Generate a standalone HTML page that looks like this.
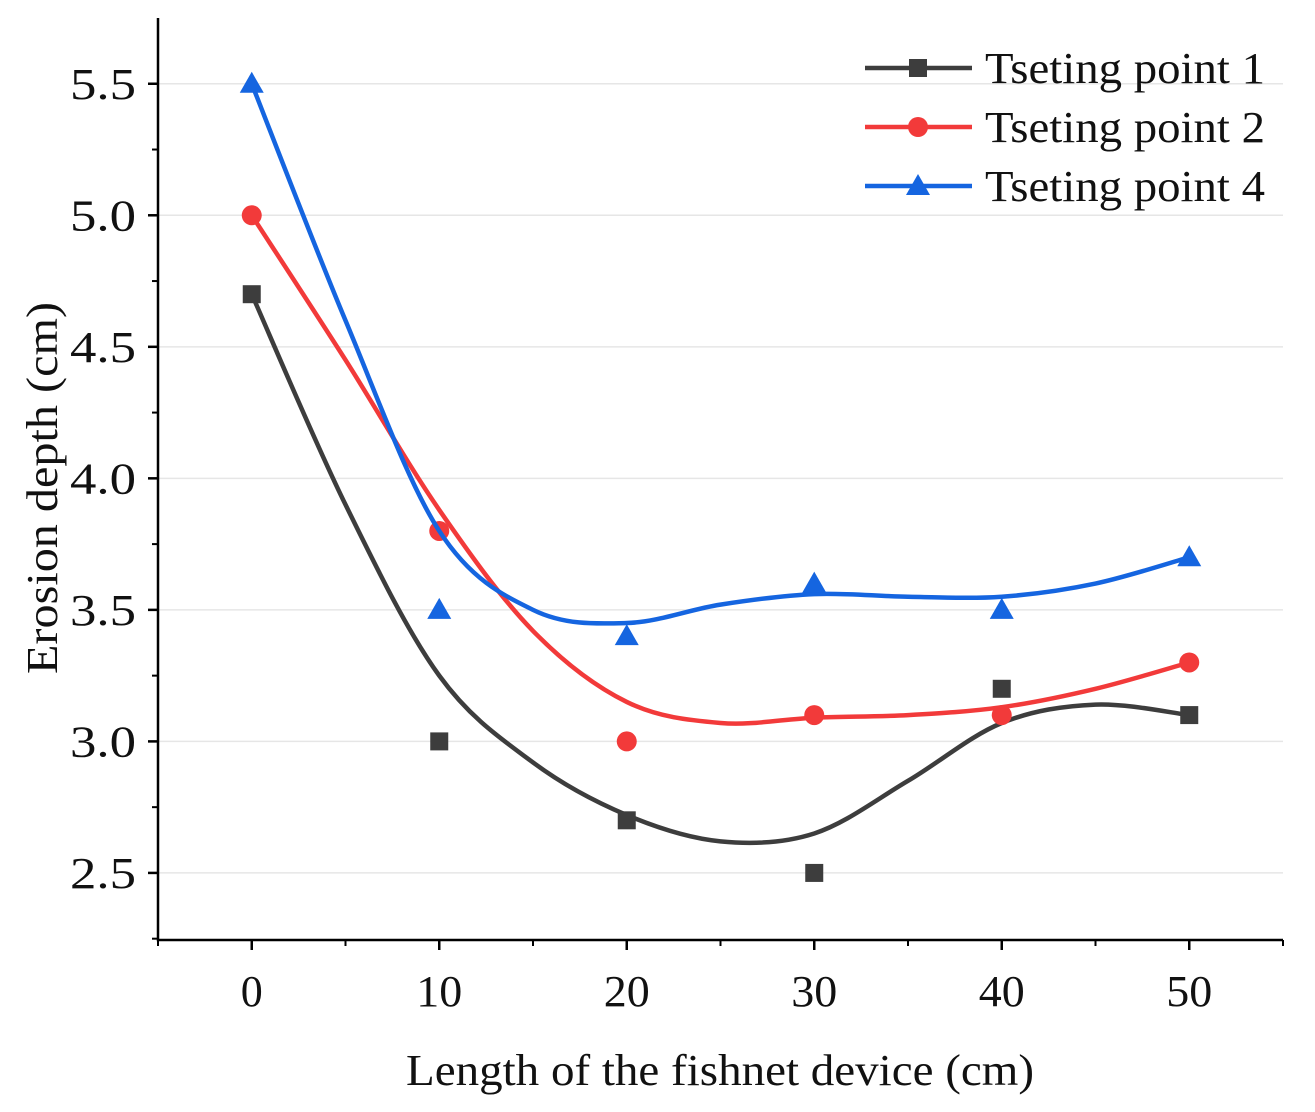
<!DOCTYPE html>
<html><head><meta charset="utf-8"><style>
html,body{margin:0;padding:0;background:#fff;}
svg{display:block;font-family:"Liberation Serif",serif;}
</style></head><body>
<svg id="chart" width="1315" height="1112" viewBox="0 0 1315 1112">
<g id="grid"></g>
<g id="axes"></g>
<g id="series"></g>
<g id="legend"></g>
<text x="720" y="1085" font-size="44" text-anchor="middle" fill="#111" textLength="628" lengthAdjust="spacingAndGlyphs">Length of the fishnet device (cm)</text>
<text transform="translate(57,488) rotate(-90)" font-size="44" text-anchor="middle" fill="#111" textLength="372" lengthAdjust="spacingAndGlyphs">Erosion depth (cm)</text>
</svg>
<script>
const xCats=[0,10,20,30,40,50];
const s1=[4.7,3.0,2.7,2.5,3.2,3.1];
const s2=[5.0,3.8,3.0,3.1,3.1,3.3];
const s4=[5.5,3.5,3.4,3.6,3.5,3.7];
const fitX=[0,5,10,15,20,25,30,35,40,45,50];
const fit1=[4.7,3.9,3.25,2.92,2.72,2.62,2.65,2.85,3.07,3.14,3.1];
const fit2=[5.0,4.45,3.88,3.42,3.15,3.07,3.09,3.10,3.13,3.2,3.3];
const fit4=[5.5,4.6,3.8,3.5,3.45,3.52,3.56,3.55,3.55,3.6,3.7];
const yTicks=[2.5,3.0,3.5,4.0,4.5,5.0,5.5];
const yTickLabels=["2.5","3.0","3.5","4.0","4.5","5.0","5.5"];
const xTickLabels=["0","10","20","30","40","50"];
const names=["Tseting point 1","Tseting point 2","Tseting point 4"];

const NS="http://www.w3.org/2000/svg";
const L=158,R=1283,T=18,B=940,xmin=-5,xmax=55,ymin=2.245,ymax=5.75;
const X=v=>L+(v-xmin)/(xmax-xmin)*(R-L);
const Y=v=>B-(v-ymin)/(ymax-ymin)*(B-T);
function mk(p,tag,a){const e=document.createElementNS(NS,tag);for(const k in a)e.setAttribute(k,a[k]);p.appendChild(e);return e;}
const grid=document.getElementById('grid'),axes=document.getElementById('axes'),ser=document.getElementById('series'),leg=document.getElementById('legend');
yTicks.forEach((v,i)=>{
  const g=mk(grid,'line',{x1:L,x2:R,y1:Y(v),y2:Y(v),stroke:'#e6e6e6','stroke-width':1.5});
  
  const t=mk(axes,'line',{x1:L-10,x2:L,y1:Y(v),y2:Y(v),stroke:'#000','stroke-width':2.5});
  
  const lb=mk(axes,'text',{x:L-22,y:Y(v)+15,'font-size':44,'text-anchor':'end',fill:'#111',textLength:66,lengthAdjust:'spacingAndGlyphs'});lb.textContent=yTickLabels[i];
  
});
for(let v=2.25;v<5.75;v+=0.25){if(Math.abs((v*2)%1)<1e-6)continue;const t=mk(axes,'line',{x1:L-6,x2:L,y1:Y(v),y2:Y(v),stroke:'#000','stroke-width':2});}
xCats.forEach((v,i)=>{
  const t=mk(axes,'line',{x1:X(v),x2:X(v),y1:B,y2:B+10,stroke:'#000','stroke-width':2.5});
  
  const a={x:X(v),y:B+66,'font-size':44,'text-anchor':'middle',fill:'#111'};
  if(xTickLabels[i].length>1){a.textLength=46;a.lengthAdjust='spacingAndGlyphs';}
  const lb=mk(axes,'text',a);lb.textContent=xTickLabels[i];
  
});
for(let v=-5;v<=55;v+=10){const t=mk(axes,'line',{x1:X(v),x2:X(v),y1:B,y2:B+6,stroke:'#000','stroke-width':2});}
const ax=mk(axes,'path',{d:`M${L},${T}V${B}H${R}`,fill:'none',stroke:'#000','stroke-width':2.5});


function smooth(xs,ys){const p=xs.map((x,i)=>[X(x),Y(ys[i])]);let d=`M${p[0][0]},${p[0][1]}`;
  for(let i=0;i<p.length-1;i++){const p0=p[i-1]||p[i],p1=p[i],p2=p[i+1],p3=p[i+2]||p2;
    d+=`C${p1[0]+(p2[0]-p0[0])/6},${p1[1]+(p2[1]-p0[1])/6} ${p2[0]-(p3[0]-p1[0])/6},${p2[1]-(p3[1]-p1[1])/6} ${p2[0]},${p2[1]}`;}return d;}
function marker(g,type,cx,cy,c,s){
  if(type==='sq')return mk(g,'rect',{x:cx-s,y:cy-s,width:2*s,height:2*s,fill:c});
  if(type==='ci')return mk(g,'circle',{cx:cx,cy:cy,r:s+1,fill:c});
  return mk(g,'path',{d:`M${cx},${cy-s-3}L${cx+s+3},${cy+s}L${cx-s-3},${cy+s}Z`,fill:c});}
const defs=[[fit1,s1,'#3d3d3d','sq'],[fit2,s2,'#f23a3a','ci'],[fit4,s4,'#1565e0','tr']];
defs.forEach(([f,s,c,m],k)=>{
  const g=mk(ser,'g',{});
  const pth=mk(g,'path',{d:smooth(fitX,f),fill:'none',stroke:c,'stroke-width':4.5});
  
  xCats.forEach((x,i)=>{const e=marker(g,m,X(x),Y(s[i]),c,9);});
  const ly=68+k*59;
  const ln=mk(leg,'line',{x1:865,x2:972,y1:ly,y2:ly,stroke:c,'stroke-width':4.5});
  
  const lm=marker(leg,m,918,ly,c,9);
  const t=mk(leg,'text',{x:985,y:ly+15,'font-size':44,fill:'#111',textLength:280,lengthAdjust:'spacingAndGlyphs'});t.textContent=names[k];
  
});
</script>
</body></html>
